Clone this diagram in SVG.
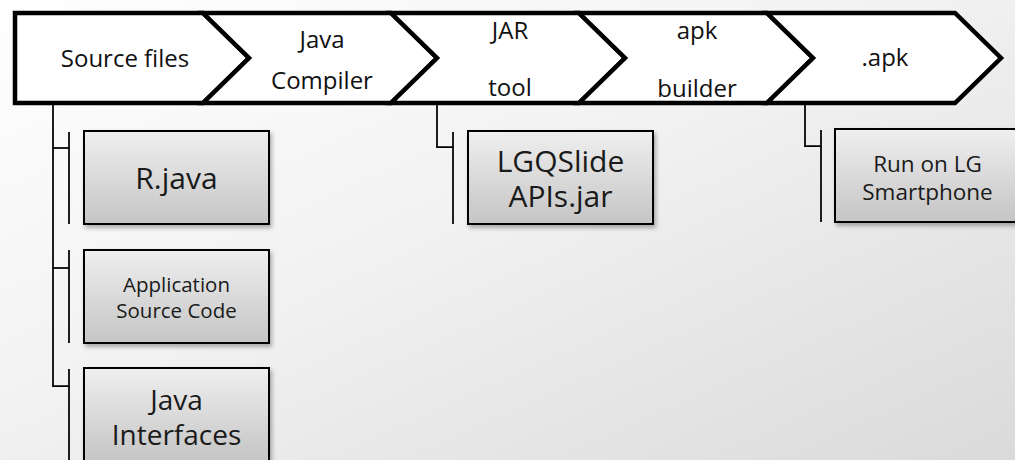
<svg xmlns="http://www.w3.org/2000/svg" width="1015" height="460" viewBox="0 0 1015 460">
  <defs>
    <linearGradient id="bg" x1="0" y1="0" x2="1" y2="1">
      <stop offset="0" stop-color="#ffffff"/>
      <stop offset="0.45" stop-color="#f2f2f2"/>
      <stop offset="1" stop-color="#dadada"/>
    </linearGradient>
    <linearGradient id="boxfill" x1="0" y1="0" x2="0" y2="1">
      <stop offset="0" stop-color="#efefef"/>
      <stop offset="1" stop-color="#c5c5c5"/>
    </linearGradient>
    <filter id="shadow" x="-10%" y="-10%" width="125%" height="130%">
      <feDropShadow dx="2" dy="3" stdDeviation="2" flood-color="#000" flood-opacity="0.3"/>
    </filter>
  </defs>
  <style>
    .chev { fill: #ffffff; stroke: #000000; stroke-width: 4.5; stroke-linejoin: miter; }
    .band { font-family: "Open Sans", "Noto Sans", sans-serif; font-size: 24px; fill: #111111; text-anchor: middle; }
    .box { fill: url(#boxfill); stroke: #000000; stroke-width: 2; filter: url(#shadow); }
    .bt { font-family: "Open Sans", "Noto Sans", sans-serif; fill: #1a1a1a; text-anchor: middle; }
    .conn { fill: none; stroke: #000000; stroke-width: 1.75; }
  </style>
  <rect x="0" y="0" width="1015" height="460" fill="url(#bg)"/>

  <g id="connectors">
    <path class="conn" d="M53,103 V386 H69"/>
    <path class="conn" d="M53,148 H69"/>
    <path class="conn" d="M53,268 H69"/>
    <path class="conn" d="M69,132 V224"/>
    <path class="conn" d="M69,250 V343"/>
    <path class="conn" d="M69,369 V462"/>
    <path class="conn" d="M437,103 V147 H453"/>
    <path class="conn" d="M453,132 V224"/>
    <path class="conn" d="M805,103 V146 H821"/>
    <path class="conn" d="M821,130 V222"/>
  </g>

  <g id="source-files">
    <path class="chev" d="M15,13 L203,13 L249,58 L203,103 L15,103 Z"/>
    <text class="band" x="125" y="67">Source files</text>
  </g>
  <g id="java-compiler">
    <path class="chev" d="M203,13 L391,13 L437,58 L391,103 L203,103 L249,58 Z"/>
    <text class="band" x="322" y="48">Java</text>
    <text class="band" x="322" y="89">Compiler</text>
  </g>
  <g id="jar-tool">
    <path class="chev" d="M391,13 L579,13 L625,58 L579,103 L391,103 L437,58 Z"/>
    <text class="band" x="510" y="39">JAR</text>
    <text class="band" x="510" y="96">tool</text>
  </g>
  <g id="apk-builder">
    <path class="chev" d="M579,13 L767,13 L813,58 L767,103 L579,103 L625,58 Z"/>
    <text class="band" x="697" y="39">apk</text>
    <text class="band" x="697" y="97">builder</text>
  </g>
  <g id="apk">
    <path class="chev" d="M767,13 L955,13 L1001,58 L955,103 L767,103 L813,58 Z"/>
    <text class="band" x="885" y="66">.apk</text>
  </g>

  <g id="r-java">
    <rect class="box" x="84" y="131" width="185" height="93"/>
    <text class="bt" x="176.5" y="189" font-size="30">R.java</text>
  </g>
  <g id="application-source-code">
    <rect class="box" x="84" y="250" width="185" height="93"/>
    <text class="bt" x="176.5" y="292" font-size="20.5">Application</text>
    <text class="bt" x="176.5" y="318" font-size="20.5">Source Code</text>
  </g>
  <g id="java-interfaces">
    <rect class="box" x="84" y="368" width="185" height="93"/>
    <text class="bt" x="176.5" y="410" font-size="28">Java</text>
    <text class="bt" x="176.5" y="445" font-size="28">Interfaces</text>
  </g>
  <g id="lgqslide-apis-jar">
    <rect class="box" x="468" y="131" width="185" height="93"/>
    <text class="bt" x="560.5" y="172" font-size="30">LGQSlide</text>
    <text class="bt" x="560.5" y="207" font-size="30">APIs.jar</text>
  </g>
  <g id="run-on-lg-smartphone">
    <rect class="box" x="835" y="129" width="185" height="93"/>
    <text class="bt" x="927.5" y="172" font-size="22.5">Run on LG</text>
    <text class="bt" x="927.5" y="200" font-size="22.5">Smartphone</text>
  </g>
</svg>
